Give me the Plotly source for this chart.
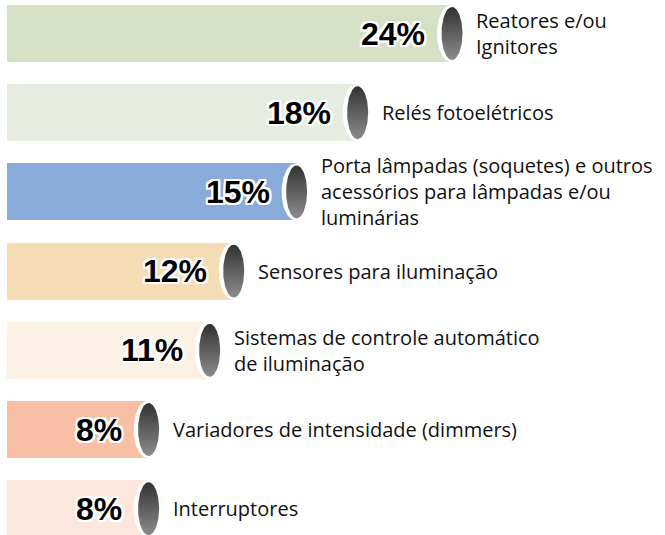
import numpy as np
import plotly.graph_objects as go

# ---- data ----
categories = [
    "Reatores e/ou<br>Ignitores",
    "Relés fotoelétricos",
    "Porta lâmpadas (soquetes) e outros<br>acessórios para lâmpadas e/ou<br>luminárias",
    "Sensores para iluminação",
    "Sistemas de controle automático<br>de iluminação",
    "Variadores de intensidade (dimmers)",
    "Interruptores",
]
values = [24.0, 18.9, 15.6, 12.2, 10.9, 7.6, 7.6]
value_labels = ["24%", "18%", "15%", "12%", "11%", "8%", "8%"]
bar_colors = ["#d5e0c5", "#e6ecdf", "#88abda", "#f5dcb5", "#fdf1e5", "#f9bfa5", "#fde6dc"]

# ---- geometry (pixels) ----
W, H = 665, 535
PX_PER_X = 18.5      # pixels per percentage point
X_ZERO_PX = 7
PITCH = 79.2         # pixels per category
FIRST_CENTER = 33.5
BAR_W = 0.72

x_range = [-X_ZERO_PX / PX_PER_X, (W - X_ZERO_PX) / PX_PER_X]
y_range = [(H - FIRST_CENTER) / PITCH, -FIRST_CENTER / PITCH]
ypos = list(range(len(categories)))

fig = go.Figure()
fig.add_trace(go.Bar(
    x=values, y=ypos, orientation="h", width=BAR_W,
    marker=dict(color=bar_colors, line=dict(width=0)),
    hoverinfo="skip", showlegend=False,
))

theta = np.linspace(0, 2 * np.pi, 120)


def ellipse(cx, cy, wpx, hpx, dx_px=0.0):
    xs = cx + dx_px / PX_PER_X + (wpx / 2) / PX_PER_X * np.cos(theta)
    ys = cy + (hpx / 2) / PITCH * np.sin(theta)
    return xs, ys


bar_h_px = BAR_W * PITCH
# white rims
for v, y in zip(values, ypos):
    xs, ys = ellipse(v, y, 28, bar_h_px, dx_px=0)
    fig.add_trace(go.Scatter(x=xs, y=ys, mode="lines", fill="toself",
                             fillcolor="white", line=dict(width=0),
                             hoverinfo="skip", showlegend=False))
# gray gradient end caps
for v, y in zip(values, ypos):
    hpx = 53
    xs, ys = ellipse(v, y, 21, hpx, dx_px=1)
    fig.add_trace(go.Scatter(
        x=xs, y=ys, mode="lines", fill="toself", line=dict(width=0),
        fillgradient=dict(type="vertical",
                          colorscale=[[0, "#323232"], [1, "#8c8c8c"]],
                          start=y - (hpx / 2) / PITCH, stop=y + (hpx / 2) / PITCH),
        hoverinfo="skip", showlegend=False))

outline = ",".join(f"{dx}px {dy}px 0 #ffffff" for dx, dy in
                   [(-2, 0), (2, 0), (0, -2), (0, 2), (-2, -2), (2, -2), (-2, 2), (2, 2),
                    (-1, -2), (1, -2), (-1, 2), (1, 2), (-2, -1), (2, -1), (-2, 1), (2, 1)])

for v, y, lab, cat in zip(values, ypos, value_labels, categories):
    fig.add_annotation(x=v, y=y, xref="x", yref="y", text=lab, showarrow=False,
                       xanchor="right", yanchor="middle", xshift=-24,
                       font=dict(family="Liberation Sans", size=32, color="#000000",
                                 weight="bold", shadow=outline))
    fig.add_annotation(x=v, y=y, xref="x", yref="y", text=cat, showarrow=False,
                       xanchor="left", yanchor="middle", xshift=23,
                       align="left",
                       font=dict(family="Open Sans", size=20, color="#111111"))

fig.update_layout(
    width=W, height=H,
    margin=dict(l=0, r=0, t=0, b=0),
    paper_bgcolor="white", plot_bgcolor="white",
    xaxis=dict(range=x_range, visible=False, fixedrange=True),
    yaxis=dict(range=y_range, visible=False, fixedrange=True),
    showlegend=False,
    bargap=0,
)

fig.write_html("out.html", config={"displayModeBar": False},
               post_script="document.body.style.margin='0';")
